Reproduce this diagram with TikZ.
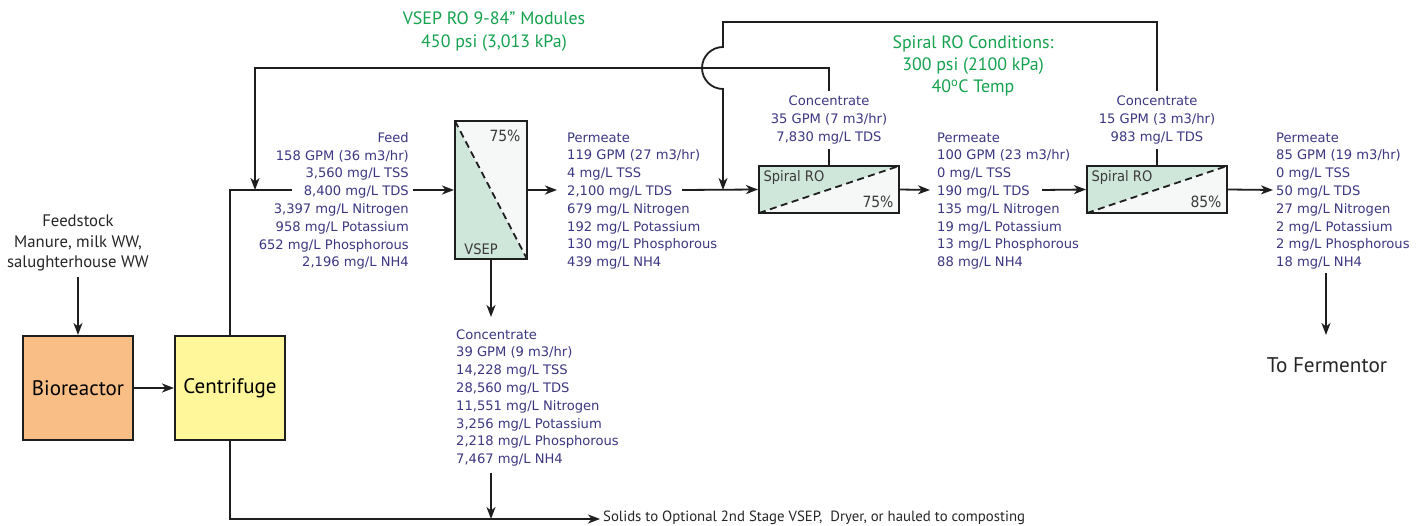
\documentclass[tikz,border=0pt]{standalone}
\usepackage{fontspec}
\setmainfont{PT Sans}
\newfontfamily\bluefont{DejaVu Sans}
\newfontfamily\bluefontc{DejaVu Sans Condensed}
\usetikzlibrary{arrows.meta}
\definecolor{txtblue}{RGB}{60,55,130}
\definecolor{txtgreen}{RGB}{20,162,78}
\definecolor{linec}{RGB}{30,30,30}
\definecolor{mint}{RGB}{207,230,219}
\definecolor{pale}{RGB}{245,248,247}
\definecolor{orangefill}{RGB}{249,190,133}
\definecolor{yellowfill}{RGB}{255,247,153}
\definecolor{lblgray}{RGB}{58,58,58}
\begin{document}
\begin{tikzpicture}[x=1pt,y=-1pt,
  line/.style={draw=linec, line width=1.8pt},
  arr/.style={line, -{Stealth[length=12pt,width=9pt,inset=3.5pt]}},
  data/.style={font=\bluefont\fontsize{13.1}{17.8}\selectfont, text=txtblue, inner sep=0pt},
  greentxt/.style={font=\fontsize{17.9}{23}\selectfont, text=txtgreen, align=center, inner sep=0pt},
  blacktxt/.style={font=\fontsize{16.7}{20.5}\selectfont, text=black!85, align=center, inner sep=0pt},
  procbox/.style={draw=linec, line width=2pt, minimum width=110pt, minimum height=104pt, inner sep=0pt, font=\fontsize{21}{24}\selectfont},
  boxlbl/.style={font=\bluefontc\fontsize{15.5}{17}\selectfont, text=lblgray, inner sep=0pt},
  boxlblsm/.style={font=\bluefontc\fontsize{14.5}{15}\selectfont, text=lblgray, inner sep=0pt},
  vsepbox/.style={draw=linec, line width=2pt, minimum width=72pt, minimum height=138pt, inner sep=0pt,
    path picture={
      \fill[mint] (path picture bounding box.north west) -- (path picture bounding box.south west) -- (path picture bounding box.south east) -- cycle;
      \fill[pale] (path picture bounding box.north west) -- (path picture bounding box.north east) -- (path picture bounding box.south east) -- cycle;
      \draw[line width=1.8pt, dash pattern=on 7pt off 4.5pt] (path picture bounding box.north west) -- (path picture bounding box.south east);}},
  spiralbox/.style={draw=linec, line width=2pt, minimum width=140pt, minimum height=47pt, inner sep=0pt,
    path picture={
      \fill[mint] (path picture bounding box.south west) -- (path picture bounding box.north west) -- (path picture bounding box.north east) -- cycle;
      \fill[pale] (path picture bounding box.south west) -- (path picture bounding box.south east) -- (path picture bounding box.north east) -- cycle;
      \draw[line width=1.8pt, dash pattern=on 7pt off 4.5pt] (path picture bounding box.south west) -- (path picture bounding box.north east);}}
]
\fill[white] (0,0) rectangle (1425,526);
\useasboundingbox (0,0) rectangle (1425,526);

% process boxes
\node[procbox, fill=orangefill] (bio) at (78,388) {Bioreactor};
\node[procbox, fill=yellowfill] (centri) at (230,388) {Centrifuge};
\node[vsepbox] (vsep) at (491,190) {};
\node[spiralbox] (sp1) at (829,189.5) {};
\node[spiralbox] (sp2) at (1157,189.5) {};

% labels inside membrane boxes
\node[boxlbl] (vsepp) at (505,136) {75\%};
\node[boxlblsm] (vsepl) at (481,249) {VSEP};
\node[boxlblsm] (sp1l) at (794,178) {Spiral RO};
\node[boxlbl] (sp1p) at (878,202) {75\%};
\node[boxlblsm] (sp2l) at (1122,178) {Spiral RO};
\node[boxlbl] (sp2p) at (1206,202) {85\%};

% green notes
\node[greentxt] (note1) at (494,32) {VSEP RO 9-84” Modules\\450 psi (3,013 kPa)};
\node[greentxt, font=\fontsize{17.9}{22}\selectfont] (note2) at (973,66) {Spiral RO Conditions:\\300 psi (2100 kPa)\\40\textsuperscript{o}C Temp};

% black texts
\node[blacktxt] (feedstock) at (78,243) {Feedstock\\Manure, milk WW,\\salughterhouse WW};
\node[blacktxt, font=\fontsize{21.2}{24}\selectfont] (ferm) at (1327,365) {To Fermentor};
\node[blacktxt, font=\fontsize{14.8}{18}\selectfont, anchor=west] (solids) at (603,518) {Solids to Optional 2nd Stage VSEP,\ \ Dryer, or hauled to composting};

% data blocks
\node[data, align=right, anchor=east] (feed) at (409,201) {Feed\\158 GPM (36 m3/hr)\\3,560 mg/L TSS\\8,400 mg/L TDS\\3,397 mg/L Nitrogen\\958 mg/L Potassium\\652 mg/L Phosphorous\\2,196 mg/L NH4};
\node[data, align=left, anchor=west] (perm1) at (567,201) {Permeate\\119 GPM (27 m3/hr)\\4 mg/L TSS\\2,100 mg/L TDS\\679 mg/L Nitrogen\\192 mg/L Potassium\\130 mg/L Phosphorous\\439 mg/L NH4};
\node[data, align=left, anchor=west] (perm2) at (937,201) {Permeate\\100 GPM (23 m3/hr)\\0 mg/L TSS\\190 mg/L TDS\\135 mg/L Nitrogen\\19 mg/L Potassium\\13 mg/L Phosphorous\\88 mg/L NH4};
\node[data, align=left, anchor=west] (perm3) at (1276,201) {Permeate\\85 GPM (19 m3/hr)\\0 mg/L TSS\\50 mg/L TDS\\27 mg/L Nitrogen\\2 mg/L Potassium\\2 mg/L Phosphorous\\18 mg/L NH4};
\node[data, align=left, anchor=west] (concv) at (456,398) {Concentrate\\39 GPM (9 m3/hr)\\14,228 mg/L TSS\\28,560 mg/L TDS\\11,551 mg/L Nitrogen\\3,256 mg/L Potassium\\2,218 mg/L Phosphorous\\7,467 mg/L NH4};
\node[data, align=center, inner sep=5pt] (conc1) at (829,120) {Concentrate\\35 GPM (7 m3/hr)\\7,830 mg/L TDS};
\node[data, align=center, inner sep=5pt] (conc2) at (1157,120) {Concentrate\\15 GPM (3 m3/hr)\\983 mg/L TDS};

% coordinates
\coordinate (stubEnd) at (292,190);
\coordinate (feedJ) at (255,190);
\coordinate (loopL) at (255,68);
\coordinate (loopR) at (829,68);
\coordinate (topR) at (1157,22);
\coordinate (topL) at (723,22);
\coordinate (hopA) at (723,47);
\coordinate (permJ) at (723,190);
\coordinate (vsepOut) at (557,190);
\coordinate (feedOut) at (413,190);
\coordinate (perm1Out) at (682,190);
\coordinate (sp1Out) at (930,190);
\coordinate (perm2Out) at (1042,190);
\coordinate (sp2Out) at (1273,190);
\coordinate (concvTop) at (491,317);
\coordinate (concvBot) at (491,473);
\coordinate (solidsEnd) at (600,519);
\coordinate (fsBot) at (78,277);
\coordinate (p3Top) at (1326,273);
\coordinate (p3Bot) at (1326,335);

% connectors
\draw[arr] (fsBot) -- (bio.north);
\draw[arr] (bio.east) -- (centri.west);
\draw[line] (centri.north) |- (stubEnd);
\draw[arr] (feedOut) -- (vsep.west);
\draw[arr] (vsep.east) -- (vsepOut);
\draw[arr] (perm1Out) -- (sp1.west);
\draw[arr] (sp1.east) -- (sp1Out);
\draw[arr] (perm2Out) -- (sp2.west);
\draw[arr] (sp2.east) -- (sp2Out);
\draw[arr] (vsep.south) -- (concvTop);
\draw[arr] (concvBot) -- (concvBot |- solidsEnd);
\draw[arr] (centri.south) |- (solidsEnd);
\draw[arr] (p3Top) -- (p3Bot);
% recycle from spiral RO 1
\draw[line] (sp1.north) -- (conc1.south);
\draw[arr] (conc1.north) -- (loopR) -- (loopL) -- (feedJ);
% recycle from spiral RO 2
\draw[line] (sp2.north) -- (conc2.south);
\draw[arr] (conc2.north) -- (topR) -- (topL) -- (hopA) arc[start angle=270, end angle=90, radius=21] -- (permJ);
\end{tikzpicture}
\end{document}
